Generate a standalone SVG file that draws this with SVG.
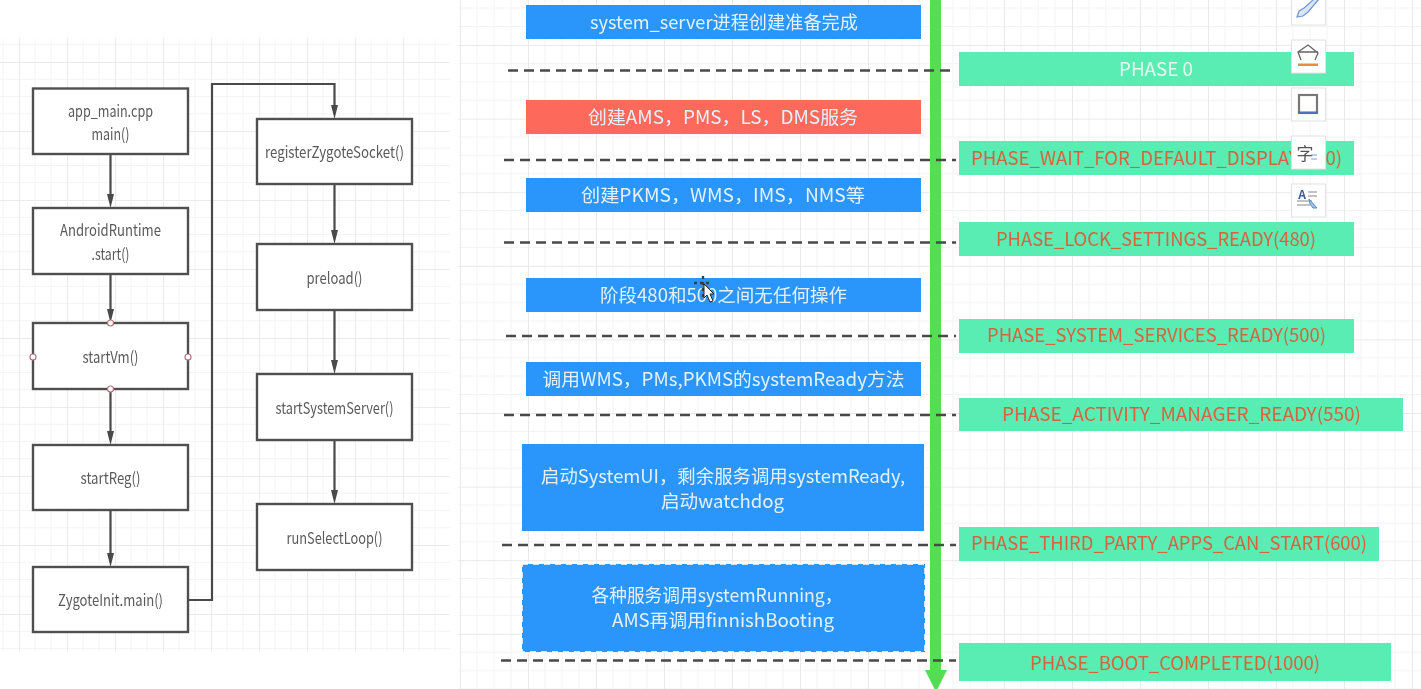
<svg xmlns="http://www.w3.org/2000/svg" width="1421" height="689" viewBox="0 0 1421 689">
<style>
text{font-family:"Noto Sans CJK SC","Noto Sans",sans-serif;text-anchor:middle;lengthAdjust:spacingAndGlyphs}
.n rect{fill:#fff;stroke:#4f4f4f;stroke-width:2.400}
.n text{fill:#5a5a5a;font-size:16px}
.b rect{fill:#2c95fb}
.b text{fill:#e4f1fc;font-size:18.500px}
.p rect{fill:#5aedb3}
.p text{fill:#d8623f;font-size:18.500px}
.d{stroke:#4a4a4a;stroke-width:2.400;stroke-dasharray:10 6;fill:none}
.c{stroke:#4a4a4a;stroke-width:2.200;fill:none}
.h{fill:#4a4a4a}
.o{fill:#fff;stroke:#b5737a;stroke-width:1.200}
.t rect{fill:#fff;stroke:#e2e2e2;stroke-width:1}
.n,.b,.p,#connectors,#phase-lines,#timeline,#toolbar,#cursor{filter:url(#s)}
</style>
<defs>
<filter id="s" x="-5%" y="-5%" width="110%" height="110%"><feGaussianBlur stdDeviation="0.4"/></filter>
<pattern id="gl" x="19" y="62" width="48" height="69" patternUnits="userSpaceOnUse">
<path d="M16 0V69M32 0V69M0 17.250H48M0 34.500H48M0 51.750H48" stroke="#f4f4f4" stroke-width="1" fill="none"/>
<path d="M0.500 0V69M0 0.500H48" stroke="#ebebeb" stroke-width="1" fill="none"/>
</pattern>
<pattern id="gr" x="1072" y="45" width="68" height="73.600" patternUnits="userSpaceOnUse">
<path d="M17 0V73.600M34 0V73.600M51 0V73.600M0 18.400H68M0 36.800H68M0 55.200H68" stroke="#f3f3f3" stroke-width="1" fill="none"/>
<path d="M0.500 0V73.600M0 0.500H68" stroke="#e9e9e9" stroke-width="1" fill="none"/>
</pattern>
</defs>
<rect width="1421" height="689" fill="#fff"/>
<rect x="0" y="38" width="450" height="614" fill="url(#gl)"/>
<rect x="458" y="0" width="963" height="689" fill="url(#gr)"/>

<g id="connectors">
<path class="c" d="M110.500 154V196M110.500 274V311M110.500 389V433M110.500 510V555M188 600H212V84H334.500V107M334.500 184V232M334.500 310V362M334.500 440V492"/>
<path class="h" d="M107 194H114L110.500 208ZM107 309H114L110.500 323ZM107 431H114L110.500 445ZM107 553H114L110.500 567ZM331 105H338L334.500 119ZM331 230H338L334.500 244ZM331 360H338L334.500 374ZM331 490H338L334.500 504Z"/>
</g>

<g id="n1" class="n"><rect x="33" y="88.500" width="155" height="65.500"/><text x="110.500" y="117" textLength="85" lengthAdjust="spacingAndGlyphs">app_main.cpp</text><text x="110.500" y="140" textLength="38" lengthAdjust="spacingAndGlyphs">main()</text></g>
<g id="n2" class="n"><rect x="33" y="208" width="155" height="66"/><text x="110.500" y="236" textLength="101" lengthAdjust="spacingAndGlyphs">AndroidRuntime</text><text x="110.500" y="260" textLength="38" lengthAdjust="spacingAndGlyphs">.start()</text></g>
<g id="n3" class="n"><rect x="33" y="323" width="155" height="66"/><text x="110.500" y="363" textLength="56" lengthAdjust="spacingAndGlyphs">startVm()</text>
<circle class="o" cx="110.500" cy="323" r="3"/><circle class="o" cx="33" cy="357" r="3"/><circle class="o" cx="188" cy="357" r="3"/><circle class="o" cx="110.500" cy="389" r="3"/></g>
<g id="n4" class="n"><rect x="33" y="445" width="155" height="65"/><text x="110.500" y="484" textLength="60" lengthAdjust="spacingAndGlyphs">startReg()</text></g>
<g id="n5" class="n"><rect x="33" y="567" width="155" height="65"/><text x="110.500" y="606" textLength="105" lengthAdjust="spacingAndGlyphs">ZygoteInit.main()</text></g>
<g id="n6" class="n"><rect x="257" y="119" width="155" height="65"/><text x="334.500" y="158" textLength="139" lengthAdjust="spacingAndGlyphs">registerZygoteSocket()</text></g>
<g id="n7" class="n"><rect x="257" y="244" width="155" height="66"/><text x="334.500" y="284" textLength="56" lengthAdjust="spacingAndGlyphs">preload()</text></g>
<g id="n8" class="n"><rect x="257" y="374" width="155" height="66"/><text x="334.500" y="414" textLength="118" lengthAdjust="spacingAndGlyphs">startSystemServer()</text></g>
<g id="n9" class="n"><rect x="257" y="504" width="155" height="66"/><text x="334.500" y="544" textLength="96" lengthAdjust="spacingAndGlyphs">runSelectLoop()</text></g>

<g id="timeline"><path d="M935.500 0V672" stroke="#55dd55" stroke-width="11" fill="none"/><path d="M925 670H947L936 692Z" fill="#55dd55"/></g>

<g id="b1" class="b"><rect x="526" y="5" width="395" height="34"/><text x="724" y="29" textLength="268" lengthAdjust="spacingAndGlyphs">system_server进程创建准备完成</text></g>
<g id="b2" class="b"><rect x="526" y="100" width="395" height="34" style="fill:#fd6a5c"/><text x="723" y="124" textLength="270" lengthAdjust="spacingAndGlyphs">创建AMS，PMS，LS，DMS服务</text></g>
<g id="b3" class="b"><rect x="526" y="178" width="395" height="34"/><text x="723" y="202" textLength="284" lengthAdjust="spacingAndGlyphs">创建PKMS，WMS，IMS，NMS等</text></g>
<g id="b4" class="b"><rect x="526" y="278" width="395" height="34"/><text x="723.500" y="302" textLength="247" lengthAdjust="spacingAndGlyphs">阶段480和500之间无任何操作</text></g>
<g id="b5" class="b"><rect x="526" y="362" width="395" height="34"/><text x="723.500" y="386" textLength="362" lengthAdjust="spacingAndGlyphs">调用WMS，PMs,PKMS的systemReady方法</text></g>
<g id="b6" class="b"><rect x="522" y="444" width="402" height="87"/><text x="723" y="483" textLength="364" lengthAdjust="spacingAndGlyphs">启动SystemUI，剩余服务调用systemReady,</text><text x="722.500" y="508" textLength="123" lengthAdjust="spacingAndGlyphs">启动watchdog</text></g>
<g id="b7" class="b"><rect x="522" y="564" width="403" height="88" style="stroke:#fff;stroke-width:1.500;stroke-dasharray:6 5"/><text x="717" y="602" textLength="251" lengthAdjust="spacingAndGlyphs">各种服务调用systemRunning，</text><text x="723" y="627" textLength="222" lengthAdjust="spacingAndGlyphs">AMS再调用finnishBooting</text></g>

<g id="phase-lines">
<path class="d" d="M508 70.500H956"/><path class="d" d="M504 160H956"/><path class="d" d="M504 242.500H956"/><path class="d" d="M506 336H956"/><path class="d" d="M504 415H956"/><path class="d" d="M502 545H956"/><path class="d" d="M501 660.500H956"/>
</g>

<g id="p0" class="p"><rect x="959" y="52" width="395" height="34"/><text x="1156" y="76" textLength="74" lengthAdjust="spacingAndGlyphs" style="fill:#e6f8f0">PHASE 0</text></g>
<g id="p1" class="p"><rect x="959" y="141" width="395" height="34"/><text x="1156.500" y="165" textLength="371" lengthAdjust="spacingAndGlyphs">PHASE_WAIT_FOR_DEFAULT_DISPLAY(100)</text></g>
<g id="p2" class="p"><rect x="959" y="222" width="395" height="34"/><text x="1156" y="246" textLength="320" lengthAdjust="spacingAndGlyphs">PHASE_LOCK_SETTINGS_READY(480)</text></g>
<g id="p3" class="p"><rect x="959" y="319" width="395" height="34"/><text x="1156.500" y="342" textLength="339" lengthAdjust="spacingAndGlyphs">PHASE_SYSTEM_SERVICES_READY(500)</text></g>
<g id="p4" class="p"><rect x="959" y="398" width="444" height="33"/><text x="1181.500" y="421" textLength="359" lengthAdjust="spacingAndGlyphs">PHASE_ACTIVITY_MANAGER_READY(550)</text></g>
<g id="p5" class="p"><rect x="959" y="527" width="420" height="34"/><text x="1169" y="550" textLength="396" lengthAdjust="spacingAndGlyphs">PHASE_THIRD_PARTY_APPS_CAN_START(600)</text></g>
<g id="p6" class="p"><rect x="959" y="643" width="432" height="38"/><text x="1175" y="670" textLength="290" lengthAdjust="spacingAndGlyphs">PHASE_BOOT_COMPLETED(1000)</text></g>

<g id="toolbar" class="t">
<rect x="1291.500" y="-8" width="34" height="33"/>
<path d="M1297 17L1299 11L1304 8L1314 -1H1319L1308 12L1303 16Z" fill="#d9e6f8" stroke="#7097cf" stroke-width="1.200"/>
<rect x="1291.500" y="40" width="34" height="33"/>
<path d="M1301 60L1298 52L1308 45L1318 53L1315 60M1298 52H1318" fill="none" stroke="#666" stroke-width="1.300"/>
<rect x="1298" y="63.500" width="20" height="2.500" style="fill:#ee8a3c;stroke:none"/>
<rect x="1291.500" y="88" width="34" height="33"/>
<rect x="1299" y="95" width="18" height="18" style="fill:none;stroke:#777;stroke-width:2.200"/>
<rect x="1298" y="111.500" width="20" height="2.500" style="fill:#4a72c4;stroke:none"/>
<rect x="1291.500" y="136" width="34" height="33"/>
<text x="1305" y="160" style="fill:#555;font-size:17px">字</text>
<path d="M1311 155H1317M1311 159H1317" stroke="#7a9fd0" stroke-width="1.200"/>
<rect x="1291.500" y="184" width="34" height="33"/>
<text x="1302" y="199" style="fill:#3f5f9f;font-size:12px;font-weight:700">A</text>
<path d="M1308 192H1317M1308 196H1317M1297 201H1312M1297 205H1310" stroke="#888" stroke-width="1.200"/>
<path d="M1309 199L1317 208L1313 208L1310 204Z" fill="#9cc0ea" stroke="#5f88bf" stroke-width="1"/>
</g>

<g id="cursor">
<path d="M703 276V298M694 283H712" stroke="#33404d" stroke-width="2.400" stroke-dasharray="3 3"/>
<path d="M704 284V298L707 295L710 302L713 301L710 294H714Z" fill="#fff" stroke="#222" stroke-width="1"/>
</g>
</svg>
